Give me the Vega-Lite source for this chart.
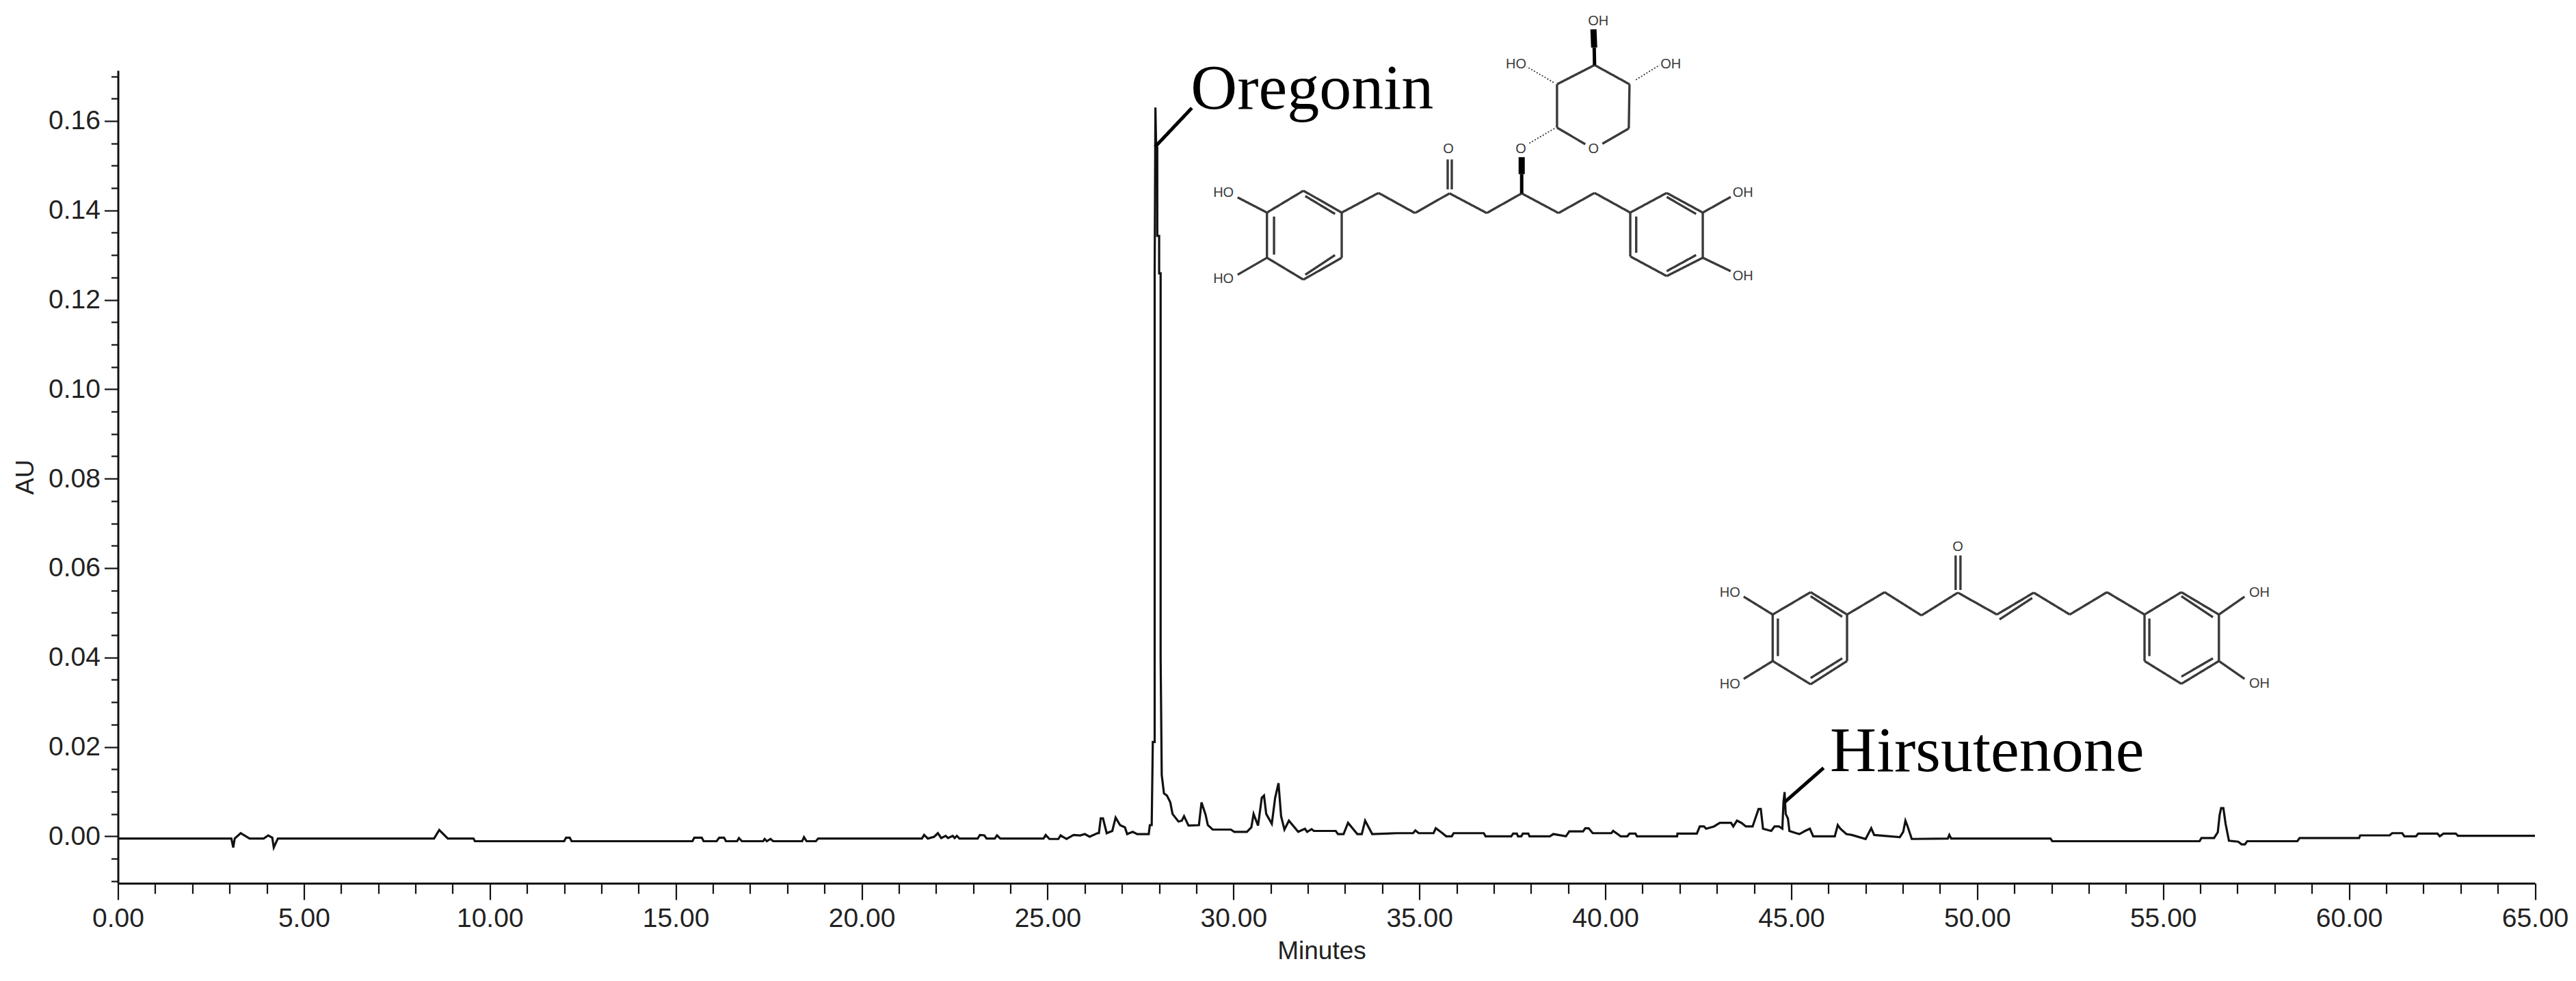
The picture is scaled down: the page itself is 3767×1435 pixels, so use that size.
{"$schema":"https://vega.github.io/schema/vega-lite/v6.json","width":3534.5,"height":1189,"autosize":{"type":"none"},"padding":{"left":172.5,"top":103,"right":60,"bottom":143},"background":"white",
"datasets":{
"trace":[{"t":0,"a":-0.0005},{"t":3.05,"a":-0.0005},{"t":3.1,"a":-0.0025},{"t":3.14,"a":-0.0005},{"t":3.3,"a":0.0007},{"t":3.54,"a":-0.0005},{"t":3.92,"a":-0.0005},{"t":4.04,"a":0.0002},{"t":4.15,"a":-0.0003},{"t":4.19,"a":-0.0025},{"t":4.3,"a":-0.0005},{"t":8.5,"a":-0.0005},{"t":8.64,"a":0.0014},{"t":8.87,"a":-0.0005},{"t":9.56,"a":-0.0005},{"t":9.6,"a":-0.0011},{"t":12.0,"a":-0.0011},{"t":12.05,"a":-0.0003},{"t":12.15,"a":-0.0003},{"t":12.2,"a":-0.0011},{"t":15.45,"a":-0.0011},{"t":15.5,"a":-0.0003},{"t":15.7,"a":-0.0003},{"t":15.75,"a":-0.0011},{"t":16.1,"a":-0.0011},{"t":16.17,"a":-0.0003},{"t":16.3,"a":-0.0003},{"t":16.35,"a":-0.0011},{"t":16.65,"a":-0.0011},{"t":16.7,"a":-0.0004},{"t":16.78,"a":-0.0011},{"t":17.05,"a":-0.0011},{"t":17.35,"a":-0.0011},{"t":17.39,"a":-0.0006},{"t":17.45,"a":-0.0011},{"t":17.55,"a":-0.0006},{"t":17.62,"a":-0.0011},{"t":18.4,"a":-0.0011},{"t":18.45,"a":-0.0002},{"t":18.52,"a":-0.0011},{"t":18.77,"a":-0.0011},{"t":18.83,"a":-0.0005},{"t":21.62,"a":-0.0005},{"t":21.68,"a":0.0003},{"t":21.78,"a":-0.0005},{"t":21.95,"a":-0.0001},{"t":22.05,"a":0.0007},{"t":22.14,"a":-0.0004},{"t":22.26,"a":0.0001},{"t":22.32,"a":-0.0004},{"t":22.45,"a":0.0001},{"t":22.5,"a":-0.0004},{"t":22.56,"a":0.0001},{"t":22.63,"a":-0.0005},{"t":23.12,"a":-0.0005},{"t":23.18,"a":0.0003},{"t":23.3,"a":0.0002},{"t":23.36,"a":-0.0005},{"t":23.58,"a":-0.0005},{"t":23.64,"a":0.0002},{"t":23.73,"a":-0.0005},{"t":24.89,"a":-0.0005},{"t":24.95,"a":0.0003},{"t":25.05,"a":-0.0006},{"t":25.29,"a":-0.0006},{"t":25.35,"a":0.0002},{"t":25.51,"a":-0.0006},{"t":25.7,"a":0.0003},{"t":25.88,"a":0.0002},{"t":26.0,"a":0.0005},{"t":26.13,"a":-0.0001},{"t":26.34,"a":0.0007},{"t":26.38,"a":0.0007},{"t":26.43,"a":0.004},{"t":26.49,"a":0.004},{"t":26.59,"a":0.0007},{"t":26.74,"a":0.0012},{"t":26.83,"a":0.0042},{"t":26.95,"a":0.0025},{"t":27.08,"a":0.002},{"t":27.14,"a":0.0005},{"t":27.29,"a":0.001},{"t":27.41,"a":0.0005},{"t":27.72,"a":0.0005},{"t":27.75,"a":0.0025},{"t":27.8,"a":0.0025},{"t":27.83,"a":0.0211},{"t":27.88,"a":0.0211},{"t":27.88,"a":0.126},{"t":27.9,"a":0.163},{"t":27.92,"a":0.154},{"t":27.95,"a":0.154},{"t":27.95,"a":0.1343},{"t":28.0,"a":0.1343},{"t":28.0,"a":0.1259},{"t":28.04,"a":0.1259},{"t":28.04,"a":0.04},{"t":28.07,"a":0.0137},{"t":28.13,"a":0.0096},{"t":28.21,"a":0.0091},{"t":28.3,"a":0.0076},{"t":28.36,"a":0.005},{"t":28.52,"a":0.0033},{"t":28.61,"a":0.0035},{"t":28.67,"a":0.0045},{"t":28.79,"a":0.0024},{"t":29.07,"a":0.0025},{"t":29.14,"a":0.0076},{"t":29.25,"a":0.0048},{"t":29.31,"a":0.0025},{"t":29.44,"a":0.0015},{"t":29.93,"a":0.0015},{"t":30.02,"a":0.001},{"t":30.36,"a":0.001},{"t":30.48,"a":0.002},{"t":30.54,"a":0.005},{"t":30.66,"a":0.0024},{"t":30.76,"a":0.0086},{"t":30.82,"a":0.0091},{"t":30.88,"a":0.005},{"t":31.03,"a":0.0028},{"t":31.12,"a":0.0086},{"t":31.21,"a":0.0119},{"t":31.28,"a":0.0045},{"t":31.37,"a":0.0015},{"t":31.49,"a":0.0035},{"t":31.74,"a":0.001},{"t":31.92,"a":0.0017},{"t":31.98,"a":0.001},{"t":32.1,"a":0.0016},{"t":32.16,"a":0.0012},{"t":32.75,"a":0.0012},{"t":32.81,"a":0.0005},{"t":32.96,"a":0.0005},{"t":33.08,"a":0.003},{"t":33.33,"a":0.0005},{"t":33.45,"a":0.0005},{"t":33.54,"a":0.0035},{"t":33.73,"a":0.0005},{"t":34.4,"a":0.0007},{"t":34.83,"a":0.0007},{"t":34.89,"a":0.0013},{"t":34.98,"a":0.0007},{"t":35.38,"a":0.0007},{"t":35.44,"a":0.0018},{"t":35.6,"a":0.0008},{"t":35.72,"a":0},{"t":35.87,"a":0},{"t":35.92,"a":0.0007},{"t":36.73,"a":0.0007},{"t":36.78,"a":0},{"t":37.47,"a":0},{"t":37.52,"a":0.0006},{"t":37.62,"a":0.0006},{"t":37.65,"a":0},{"t":37.74,"a":0},{"t":37.78,"a":0.0006},{"t":37.93,"a":0.0006},{"t":37.96,"a":0},{"t":38.51,"a":0},{"t":38.6,"a":0.0005},{"t":38.94,"a":0},{"t":39.03,"a":0.0011},{"t":39.4,"a":0.0011},{"t":39.46,"a":0.0018},{"t":39.55,"a":0.0018},{"t":39.66,"a":0.0007},{"t":40.16,"a":0.0007},{"t":40.21,"a":0.0012},{"t":40.38,"a":0.0002},{"t":40.41,"a":0},{"t":40.59,"a":0},{"t":40.65,"a":0.0006},{"t":40.81,"a":0.0006},{"t":40.85,"a":0},{"t":41.93,"a":0},{"t":41.94,"a":0.0006},{"t":42.46,"a":0.0006},{"t":42.54,"a":0.0022},{"t":42.65,"a":0.0022},{"t":42.71,"a":0.0017},{"t":42.92,"a":0.0022},{"t":43.08,"a":0.003},{"t":43.38,"a":0.003},{"t":43.44,"a":0.0022},{"t":43.54,"a":0.0035},{"t":43.66,"a":0.003},{"t":43.78,"a":0.0022},{"t":43.96,"a":0.0022},{"t":44.12,"a":0.0061},{"t":44.18,"a":0.0061},{"t":44.24,"a":0.0017},{"t":44.46,"a":0.0012},{"t":44.55,"a":0.0022},{"t":44.67,"a":0.0022},{"t":44.76,"a":0.0017},{"t":44.79,"a":0.0076},{"t":44.82,"a":0.0099},{"t":44.85,"a":0.005},{"t":44.91,"a":0.004},{"t":44.95,"a":0.0012},{"t":45.13,"a":0.0007},{"t":45.22,"a":0.0005},{"t":45.37,"a":0.0012},{"t":45.5,"a":0.0017},{"t":45.59,"a":0},{"t":46.17,"a":0},{"t":46.25,"a":0.0025},{"t":46.32,"a":0.0017},{"t":46.48,"a":0.0005},{"t":46.63,"a":0.0003},{"t":47.0,"a":-0.0006},{"t":47.15,"a":0.0018},{"t":47.23,"a":0.0003},{"t":47.92,"a":-0.0002},{"t":48.01,"a":0.001},{"t":48.07,"a":0.0035},{"t":48.13,"a":0.0022},{"t":48.24,"a":-0.0006},{"t":49.21,"a":-0.0005},{"t":49.25,"a":0.0003},{"t":49.3,"a":-0.0005},{"t":51.97,"a":-0.0005},{"t":52.02,"a":-0.0011},{"t":55.98,"a":-0.0011},{"t":56.03,"a":-0.0004},{"t":56.37,"a":-0.0004},{"t":56.47,"a":0.0009},{"t":56.52,"a":0.0048},{"t":56.56,"a":0.0063},{"t":56.62,"a":0.0063},{"t":56.68,"a":0.0028},{"t":56.77,"a":-0.001},{"t":57.02,"a":-0.0012},{"t":57.11,"a":-0.0018},{"t":57.2,"a":-0.0018},{"t":57.26,"a":-0.0011},{"t":58.61,"a":-0.0011},{"t":58.67,"a":-0.0004},{"t":60.27,"a":-0.0004},{"t":60.3,"a":0.0002},{"t":61.09,"a":0.0002},{"t":61.16,"a":0.0007},{"t":61.43,"a":0.0007},{"t":61.49,"a":0},{"t":61.8,"a":0},{"t":61.86,"a":0.0006},{"t":62.38,"a":0.0006},{"t":62.44,"a":0},{"t":62.54,"a":0.0006},{"t":62.87,"a":0.0006},{"t":62.93,"a":0.0001},{"t":65,"a":0.0001}],
"bonds":[
{"t1":28.88,"a1":0.1629,"t2":27.89,"a2":0.1542,"k":"callout"},{"t1":45.87,"a1":0.0153,"t2":44.83,"a2":0.0077,"k":"callout"},
{"t1":30.11,"a1":0.1429,"t2":30.9,"a2":0.1395,"k":"bond"},{"t1":30.11,"a1":0.1256,"t2":30.9,"a2":0.1294,"k":"bond"},
{"t1":30.9,"a1":0.1395,"t2":31.88,"a2":0.1444,"k":"bond"},{"t1":31.88,"a1":0.1444,"t2":32.91,"a2":0.1395,"k":"bond"},{"t1":32.91,"a1":0.1395,"t2":32.91,"a2":0.1294,"k":"bond"},{"t1":32.91,"a1":0.1294,"t2":31.88,"a2":0.1245,"k":"bond"},{"t1":31.88,"a1":0.1245,"t2":30.9,"a2":0.1294,"k":"bond"},{"t1":30.9,"a1":0.1294,"t2":30.9,"a2":0.1395,"k":"bond"},
{"t1":31.93,"a1":0.1432,"t2":32.73,"a2":0.1392,"k":"bond"},{"t1":32.73,"a1":0.13,"t2":31.93,"a2":0.1256,"k":"bond"},{"t1":31.09,"a1":0.1386,"t2":31.09,"a2":0.1301,"k":"bond"},
{"t1":32.91,"a1":0.1395,"t2":33.9,"a2":0.1439,"k":"bond"},{"t1":33.9,"a1":0.1439,"t2":34.88,"a2":0.1394,"k":"bond"},{"t1":34.88,"a1":0.1394,"t2":35.81,"a2":0.1438,"k":"bond"},{"t1":35.81,"a1":0.1438,"t2":36.81,"a2":0.1394,"k":"bond"},{"t1":36.81,"a1":0.1394,"t2":37.75,"a2":0.1438,"k":"bond"},{"t1":37.75,"a1":0.1438,"t2":38.74,"a2":0.1394,"k":"bond"},{"t1":38.74,"a1":0.1394,"t2":39.71,"a2":0.1439,"k":"bond"},{"t1":39.71,"a1":0.1439,"t2":40.67,"a2":0.1395,"k":"bond"},
{"t1":35.76,"a1":0.1514,"t2":35.76,"a2":0.1447,"k":"bond"},{"t1":35.87,"a1":0.1514,"t2":35.87,"a2":0.1447,"k":"bond"},
{"t1":40.67,"a1":0.1395,"t2":41.65,"a2":0.1439,"k":"bond"},{"t1":41.65,"a1":0.1439,"t2":42.62,"a2":0.1395,"k":"bond"},{"t1":42.62,"a1":0.1395,"t2":42.62,"a2":0.1294,"k":"bond"},{"t1":42.62,"a1":0.1294,"t2":41.65,"a2":0.1253,"k":"bond"},{"t1":41.65,"a1":0.1253,"t2":40.67,"a2":0.1297,"k":"bond"},{"t1":40.67,"a1":0.1297,"t2":40.67,"a2":0.1395,"k":"bond"},
{"t1":41.65,"a1":0.143,"t2":42.44,"a2":0.1392,"k":"bond"},{"t1":42.44,"a1":0.13,"t2":41.65,"a2":0.1264,"k":"bond"},{"t1":40.83,"a1":0.1386,"t2":40.83,"a2":0.1305,"k":"bond"},
{"t1":42.62,"a1":0.1395,"t2":43.37,"a2":0.143,"k":"bond"},{"t1":42.62,"a1":0.1294,"t2":43.37,"a2":0.1264,"k":"bond"},
{"t1":38.7,"a1":0.1682,"t2":39.71,"a2":0.1725,"k":"bond"},{"t1":39.71,"a1":0.1725,"t2":40.65,"a2":0.1682,"k":"bond"},{"t1":40.65,"a1":0.1682,"t2":40.63,"a2":0.1583,"k":"bond"},{"t1":40.63,"a1":0.1583,"t2":39.92,"a2":0.1549,"k":"bond"},{"t1":38.7,"a1":0.1585,"t2":39.46,"a2":0.1548,"k":"bond"},{"t1":38.7,"a1":0.1682,"t2":38.7,"a2":0.1585,"k":"bond"},
{"t1":38.61,"a1":0.1686,"t2":37.89,"a2":0.1721,"k":"hash"},{"t1":40.82,"a1":0.1692,"t2":41.46,"a2":0.1725,"k":"hash"},{"t1":38.63,"a1":0.1583,"t2":37.93,"a2":0.1549,"k":"hash"},
{"t1":43.72,"a1":0.0536,"t2":44.5,"a2":0.0496,"k":"bond"},{"t1":43.72,"a1":0.0352,"t2":44.5,"a2":0.0392,"k":"bond"},
{"t1":44.5,"a1":0.0496,"t2":45.52,"a2":0.0546,"k":"bond"},{"t1":45.52,"a1":0.0546,"t2":46.5,"a2":0.0496,"k":"bond"},{"t1":46.5,"a1":0.0496,"t2":46.5,"a2":0.0392,"k":"bond"},{"t1":46.5,"a1":0.0392,"t2":45.52,"a2":0.034,"k":"bond"},{"t1":45.52,"a1":0.034,"t2":44.5,"a2":0.0392,"k":"bond"},{"t1":44.5,"a1":0.0392,"t2":44.5,"a2":0.0496,"k":"bond"},
{"t1":45.52,"a1":0.0537,"t2":46.37,"a2":0.0491,"k":"bond"},{"t1":46.37,"a1":0.0398,"t2":45.52,"a2":0.0354,"k":"bond"},{"t1":44.64,"a1":0.0487,"t2":44.64,"a2":0.0403,"k":"bond"},
{"t1":46.5,"a1":0.0496,"t2":47.51,"a2":0.0546,"k":"bond"},{"t1":47.51,"a1":0.0546,"t2":48.5,"a2":0.0494,"k":"bond"},{"t1":48.5,"a1":0.0494,"t2":49.48,"a2":0.0545,"k":"bond"},{"t1":49.48,"a1":0.0545,"t2":50.53,"a2":0.0496,"k":"bond"},{"t1":50.53,"a1":0.0496,"t2":51.52,"a2":0.0545,"k":"bond"},{"t1":51.52,"a1":0.0545,"t2":52.49,"a2":0.0496,"k":"bond"},{"t1":52.49,"a1":0.0496,"t2":53.49,"a2":0.0546,"k":"bond"},{"t1":53.49,"a1":0.0546,"t2":54.5,"a2":0.0496,"k":"bond"},
{"t1":49.42,"a1":0.0628,"t2":49.42,"a2":0.0551,"k":"bond"},{"t1":49.55,"a1":0.0628,"t2":49.55,"a2":0.0551,"k":"bond"},{"t1":50.6,"a1":0.0485,"t2":51.48,"a2":0.0533,"k":"bond"},
{"t1":54.5,"a1":0.0496,"t2":55.49,"a2":0.0546,"k":"bond"},{"t1":55.49,"a1":0.0546,"t2":56.5,"a2":0.0496,"k":"bond"},{"t1":56.5,"a1":0.0496,"t2":56.5,"a2":0.0392,"k":"bond"},{"t1":56.5,"a1":0.0392,"t2":55.49,"a2":0.0341,"k":"bond"},{"t1":55.49,"a1":0.0341,"t2":54.5,"a2":0.0392,"k":"bond"},{"t1":54.5,"a1":0.0392,"t2":54.5,"a2":0.0496,"k":"bond"},
{"t1":55.49,"a1":0.0537,"t2":56.34,"a2":0.049,"k":"bond"},{"t1":56.34,"a1":0.0398,"t2":55.49,"a2":0.0357,"k":"bond"},{"t1":54.63,"a1":0.0487,"t2":54.63,"a2":0.0403,"k":"bond"},
{"t1":56.5,"a1":0.0496,"t2":57.19,"a2":0.0536,"k":"bond"},{"t1":56.5,"a1":0.0392,"t2":57.19,"a2":0.0352,"k":"bond"}
],
"wedges":[{"t1":37.75,"a1":0.1519,"t2":37.75,"a2":0.1481},{"t1":39.7,"a1":0.1764,"t2":39.68,"a2":0.1805}],
"tapers":[{"t1":37.75,"a1":0.1481,"t2":37.75,"a2":0.1438},{"t1":39.71,"a1":0.1725,"t2":39.7,"a2":0.1764}],
"atoms":[{"t":29.73,"a":0.1439,"s":"HO"},{"t":29.73,"a":0.1247,"s":"HO"},{"t":35.78,"a":0.1537,"s":"O"},{"t":37.73,"a":0.1537,"s":"O"},{"t":39.68,"a":0.1537,"s":"O"},{"t":43.7,"a":0.1439,"s":"OH"},{"t":43.7,"a":0.1253,"s":"OH"},{"t":37.6,"a":0.1727,"s":"HO"},{"t":39.81,"a":0.1823,"s":"OH"},{"t":41.76,"a":0.1727,"s":"OH"},{"t":43.35,"a":0.0545,"s":"HO"},{"t":43.35,"a":0.034,"s":"HO"},{"t":49.48,"a":0.0647,"s":"O"},{"t":57.59,"a":0.0545,"s":"OH"},{"t":57.59,"a":0.0341,"s":"OH"}],
"names":[{"t":28.85,"a":0.1628,"s":"Oregonin"},{"t":46.04,"a":0.0146,"s":"Hirsutenone"}]
},
"layer":[
{"data":{"name":"trace"},"mark":{"type":"line","color":"#111111","strokeWidth":3.2,"interpolate":"linear","clip":false},
"encoding":{"order":{"value":null},
"x":{"field":"t","type":"quantitative","scale":{"domain":[0,65],"nice":false,"zero":false},
"axis":{"title":"Minutes","values":[0,5,10,15,20,25,30,35,40,45,50,55,60,65],"format":".2f","grid":false,"domainColor":"#111111","domainWidth":3,"tickColor":"#111111","tickWidth":2.2,"tickSize":24,"labelFont":"Liberation Sans","labelFontSize":39,"labelColor":"#222222","labelPadding":8,"labelFlush":false,"labelOverlap":false,"titleFont":"Liberation Sans","titleFontWeight":"normal","titleFontSize":37,"titleColor":"#222222","titlePadding":10,"titleX":1760}},
"y":{"field":"a","type":"quantitative","scale":{"domain":[-0.0105,0.1713],"nice":false,"zero":false},
"axis":{"title":"AU","orient":"left","values":[0,0.02,0.04,0.06,0.08,0.1,0.12,0.14,0.16],"format":".2f","grid":false,"domainColor":"#111111","domainWidth":3,"tickColor":"#111111","tickWidth":2.2,"tickSize":20,"labelFont":"Liberation Sans","labelFontSize":39,"labelColor":"#222222","labelPadding":6,"labelFlush":false,"labelOverlap":false,"titleFont":"Liberation Sans","titleFontWeight":"normal","titleFontSize":37,"titleColor":"#222222","titlePadding":14}}}},
{"data":{"name":"bonds"},"mark":{"type":"rule","clip":false},
"encoding":{
"x":{"field":"t1","type":"quantitative","scale":{"domain":[0,65],"nice":false,"zero":false},"axis":{"title":null,"orient":"bottom","values":[1,2,3,4,6,7,8,9,11,12,13,14,16,17,18,19,21,22,23,24,26,27,28,29,31,32,33,34,36,37,38,39,41,42,43,44,46,47,48,49,51,52,53,54,56,57,58,59,61,62,63,64],"labels":false,"domain":false,"grid":false,"tickColor":"#111111","tickWidth":2.2,"tickSize":15}},
"x2":{"field":"t2"},
"y":{"field":"a1","type":"quantitative","scale":{"domain":[-0.0105,0.1713],"nice":false,"zero":false},"axis":{"title":null,"orient":"left","values":[-0.01,-0.005,0.005,0.01,0.015,0.025,0.03,0.035,0.045,0.05,0.055,0.065,0.07,0.075,0.085,0.09,0.095,0.105,0.11,0.115,0.125,0.13,0.135,0.145,0.15,0.155,0.165,0.17],"labels":false,"domain":false,"grid":false,"tickColor":"#111111","tickWidth":2.2,"tickSize":10}},
"y2":{"field":"a2"},
"color":{"field":"k","type":"nominal","legend":null,"scale":{"domain":["callout","bond","hash"],"range":["#000000","#3a3a3a","#3a3a3a"]}},
"strokeWidth":{"field":"k","type":"nominal","legend":null,"scale":{"domain":["callout","bond","hash"],"range":[5,1.8,4]}},
"strokeDash":{"field":"k","type":"nominal","legend":null,"scale":{"domain":["callout","bond","hash"],"range":[[1,0],[1,0],[2,2.5]]}}}},
{"data":{"name":"wedges"},"mark":{"type":"rule","clip":false,"color":"#000000","strokeWidth":9},
"encoding":{"x":{"field":"t1","type":"quantitative","scale":{"domain":[0,65],"nice":false,"zero":false},"axis":null},"x2":{"field":"t2"},"y":{"field":"a1","type":"quantitative","scale":{"domain":[-0.0105,0.1713],"nice":false,"zero":false},"axis":null},"y2":{"field":"a2"}}},
{"data":{"name":"tapers"},"mark":{"type":"rule","clip":false,"color":"#000000","strokeWidth":5},
"encoding":{"x":{"field":"t1","type":"quantitative","scale":{"domain":[0,65],"nice":false,"zero":false},"axis":null},"x2":{"field":"t2"},"y":{"field":"a1","type":"quantitative","scale":{"domain":[-0.0105,0.1713],"nice":false,"zero":false},"axis":null},"y2":{"field":"a2"}}},
{"data":{"name":"atoms"},"mark":{"type":"text","font":"Liberation Sans","fontSize":20,"color":"#3a3a3a","align":"center","baseline":"middle","clip":false},
"encoding":{"x":{"field":"t","type":"quantitative","scale":{"domain":[0,65],"nice":false,"zero":false},"axis":null},"y":{"field":"a","type":"quantitative","scale":{"domain":[-0.0105,0.1713],"nice":false,"zero":false},"axis":null},"text":{"field":"s","type":"nominal"}}},
{"data":{"name":"names"},"mark":{"type":"text","font":"Liberation Serif","fontSize":94,"color":"#000000","align":"left","baseline":"alphabetic","clip":false},
"encoding":{"x":{"field":"t","type":"quantitative","scale":{"domain":[0,65],"nice":false,"zero":false},"axis":null},"y":{"field":"a","type":"quantitative","scale":{"domain":[-0.0105,0.1713],"nice":false,"zero":false},"axis":null},"text":{"field":"s","type":"nominal"}}}
],
"resolve":{"axis":{"x":"independent","y":"independent"}},
"config":{"view":{"stroke":null}}}
